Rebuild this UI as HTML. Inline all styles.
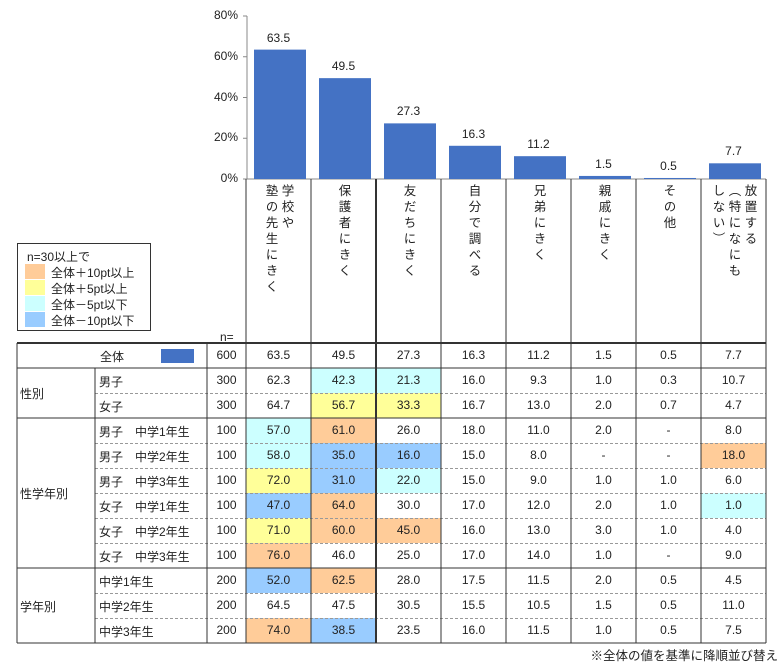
<!DOCTYPE html>
<html><head><meta charset="utf-8"><style>
body{margin:0;background:#fff;width:784px;height:665px;position:relative;overflow:hidden;font-family:"Liberation Sans","Noto Sans CJK JP",sans-serif;color:#222;}
.a{position:absolute;font-size:12px;white-space:nowrap;}
.v{position:absolute;top:184px;display:flex;justify-content:center;}
.v>div{writing-mode:vertical-rl;font-size:12.5px;letter-spacing:3.5px;line-height:16px;}
.c{text-align:center;}
</style></head><body>
<svg width="784" height="665" style="position:absolute;left:0;top:0" id="s"></svg>
<div id="t"></div>
<script>
const s=document.getElementById('s'),T=document.getElementById('t');
let h='';
const vals=[63.5,49.5,27.3,16.3,11.2,1.5,0.5,7.7];
const X0=246,W=65,Y0=179;
h+=`<line x1="247" y1="16" x2="247" y2="179" stroke="#888"/>`;
for(let i=0;i<=4;i++){let y=Y0-i*40.75;h+=`<line x1="243" y1="${y}" x2="247" y2="${y}" stroke="#888"/>`;}
h+=`<line x1="247" y1="179" x2="766" y2="179" stroke="#888"/>`;
vals.forEach((v,i)=>{let bh=v*163/80,x=X0+i*W+8;h+=`<rect x="${x}" y="${Y0-bh}" width="52" height="${bh}" fill="#4472C4"/>`;});
const C={o:'#FFCC99',y:'#FFFF99',c:'#CCFFFF',b:'#99CCFF'};
const rows=[
['63.5','49.5','27.3','16.3','11.2','1.5','0.5','7.7'],
['62.3','42.3c','21.3c','16.0','9.3','1.0','0.3','10.7'],
['64.7','56.7y','33.3y','16.7','13.0','2.0','0.7','4.7'],
['57.0c','61.0o','26.0','18.0','11.0','2.0','-','8.0'],
['58.0c','35.0b','16.0b','15.0','8.0','-','-','18.0o'],
['72.0y','31.0b','22.0c','15.0','9.0','1.0','1.0','6.0'],
['47.0b','64.0o','30.0','17.0','12.0','2.0','1.0','1.0c'],
['71.0y','60.0o','45.0o','16.0','13.0','3.0','1.0','4.0'],
['76.0o','46.0','25.0','17.0','14.0','1.0','-','9.0'],
['52.0b','62.5o','28.0','17.5','11.5','2.0','0.5','4.5'],
['64.5','47.5','30.5','15.5','10.5','1.5','0.5','11.0'],
['74.0o','38.5b','23.5','16.0','11.5','1.0','0.5','7.5']];
const ns=[600,300,300,100,100,100,100,100,100,200,200,200];
const labs=['','男子','女子','男子　中学1年生','男子　中学2年生','男子　中学3年生','女子　中学1年生','女子　中学2年生','女子　中学3年生','中学1年生','中学2年生','中学3年生'];
let tx='';
rows.forEach((r,ri)=>{let y=343+ri*25;
 r.forEach((c,ci)=>{let col=c.slice(-1),t=c;if(C[col]){t=c.slice(0,-1);h+=`<rect x="${X0+ci*W}" y="${y}" width="${W}" height="25" fill="${C[col]}"/>`;}
  tx+=`<div class="a c" style="left:${X0+ci*W}px;top:${y+5}px;width:${W}px">${t}</div>`;});
 tx+=`<div class="a c" style="left:207px;top:${y+5}px;width:39px">${ns[ri]}</div>`;
 if(ri>0)tx+=`<div class="a" style="left:99px;top:${y+5}px">${labs[ri]}</div>`;
});
tx+=`<div class="a" style="left:100px;top:348px">全体</div>`;
h+=`<rect x="161" y="349" width="33" height="14" fill="#4472C4"/>`;
tx+=`<div class="a" style="left:20px;top:385px">性別</div><div class="a" style="left:20px;top:485px">性学年別</div><div class="a" style="left:20px;top:598px">学年別</div>`;
[394,444,469,494,519,544,594,619].forEach(y=>{h+=`<line x1="95" y1="${y-0.5}" x2="766" y2="${y-0.5}" stroke="#999" stroke-dasharray="3,2"/>`;});
[368,418,568].forEach(y=>{h+=`<line x1="17" y1="${y}" x2="766" y2="${y}" stroke="#333"/>`;});
h+=`<line x1="17" y1="343" x2="766" y2="343" stroke="#333" stroke-width="2"/>`;
h+=`<line x1="17" y1="643" x2="766" y2="643" stroke="#333"/>`;
h+=`<line x1="17" y1="343" x2="17" y2="643" stroke="#333"/><line x1="95" y1="368" x2="95" y2="643" stroke="#333"/>`;
h+=`<line x1="207" y1="343" x2="207" y2="643" stroke="#333"/>`;
for(let i=0;i<=8;i++){let x=X0+i*W;h+=`<line x1="${x}" y1="179" x2="${x}" y2="643" stroke="#333" stroke-width="${i==2?2:1}"/>`;}
h+=`<rect x="17.5" y="243.5" width="133" height="87" fill="#fff" stroke="#333"/>`;
[['o',265],['y',281],['c',297],['b',313]].forEach(([k,y])=>{h+=`<rect x="25" y="${y-1}" width="20" height="15" fill="${C[k]}"/>`;});
tx+=`<div class="a" style="left:27px;top:248px">n=30以上で</div>`;
['全体＋10pt以上','全体＋5pt以上','全体－5pt以下','全体－10pt以下'].forEach((t,i)=>{tx+=`<div class="a" style="left:51px;top:${264+i*16}px">${t}</div>`;});
s.innerHTML=h;
['0%','20%','40%','60%','80%'].forEach((t,i)=>{tx+=`<div class="a" style="right:${784-238}px;top:${Y0-i*40.75-8}px">${t}</div>`;});
vals.forEach((v,i)=>{let bh=v*163/80;tx+=`<div class="a c" style="left:${X0+i*W}px;top:${Y0-bh-19}px;width:${W}px">${v}</div>`;});
tx+=`<div class="a" style="left:220px;top:330px">n=</div>`;
const hd=['学校や<br>塾の先生にきく','保護者にきく','友だちにきく','自分で調べる','兄弟にきく','親戚にきく','その他','放置する<br>（特になにも<br>しない）'];
hd.forEach((t,i)=>{tx+=`<div class="v" style="left:${X0+i*W}px;width:${W}px"><div>${t}</div></div>`;});
tx+=`<div class="a" style="right:6px;top:645px;font-size:12.5px">※全体の値を基準に降順並び替え</div>`;
T.innerHTML=tx;
</script>
</body></html>
